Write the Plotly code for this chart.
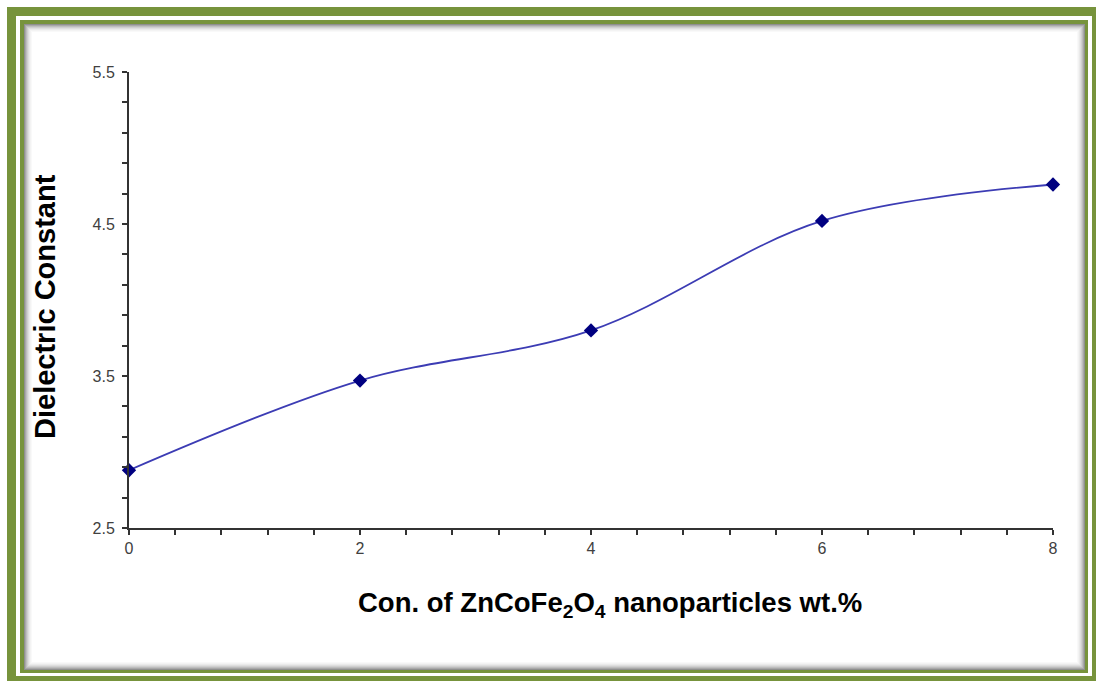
import plotly.graph_objects as go

# Data
conc = [0, 2, 4, 6, 8]
dielectric = [2.88, 3.47, 3.80, 4.52, 4.76]
x_ticks = [0, 2, 4, 6, 8]
y_ticks = [2.5, 3.5, 4.5, 5.5]
y_tick_labels = ["2.5", "3.5", "4.5", "5.5"]

W, H = 1096, 681
ML, MR, MT, MB = 129, 43, 72, 153
PW, PH = W - ML - MR, H - MT - MB


def px(x):
    return (x - ML) / PW


def py(y):
    return 1 - (y - MT) / PH


def rect(x0, y0, x1, y1, color):
    return dict(type="rect", xref="paper", yref="paper", layer="below",
                x0=px(x0), x1=px(x1), y0=py(y1), y1=py(y0),
                fillcolor=color, line=dict(width=0))


GREEN = "#77933C"
shapes = [
    rect(7, 7, 1100, 690, GREEN),
    rect(16, 16, 1092, 676, "white"),
    rect(20, 20, 1088, 673, GREEN),
]
shadow = ["#8f8f8f", "#a8a8a8", "#bdbdbd", "#cfcfcf", "#dedede", "#eaeaea", "#f3f3f3", "#f9f9f9"]
for i, c in enumerate(shadow):
    shapes.append(rect(24 + i, 24 + i, 1085 - i, 670 - i, c))
shapes.append(rect(24 + len(shadow), 24 + len(shadow), 1085 - len(shadow), 670 - len(shadow), "white"))

fig = go.Figure()
fig.add_trace(go.Scatter(
    x=conc, y=dielectric, mode="lines+markers",
    line=dict(color="#3c3cb4", width=1.8, shape="spline", smoothing=1.0),
    marker=dict(symbol="diamond", size=11, color="#000080", line=dict(width=0)),
    cliponaxis=False, showlegend=False,
))

tickfont = dict(family="Liberation Sans, Arial, sans-serif", size=16, color="#404040")
fig.update_xaxes(
    range=[0, 8], tickvals=x_ticks, ticktext=[str(v) for v in x_ticks],
    showgrid=False, zeroline=False, showline=True, linecolor="#333333", linewidth=2,
    ticks="outside", ticklen=5, tickwidth=2, tickcolor="#333333",
    minor=dict(dtick=0.4, tick0=0, ticks="outside", ticklen=5, tickwidth=2, tickcolor="#333333", showgrid=False),
    tickfont=tickfont,
)
fig.update_yaxes(
    range=[2.5, 5.5], tickvals=y_ticks, ticktext=y_tick_labels,
    showgrid=False, zeroline=False, showline=True, linecolor="#333333", linewidth=2,
    ticks="outside", ticklen=5, tickwidth=2, tickcolor="#333333",
    minor=dict(dtick=0.2, tick0=2.5, ticks="outside", ticklen=5, tickwidth=2, tickcolor="#333333", showgrid=False),
    tickfont=tickfont, ticklabelstandoff=4,
)

xtitlefont = dict(family="Liberation Sans, Arial, sans-serif", size=27.5, color="black")
ytitlefont = dict(family="Liberation Sans, Arial, sans-serif", size=29, color="black")
annotations = [
    dict(text="<b>Con. of ZnCoFe<sub>2</sub>O<sub>4</sub> nanoparticles wt.%</b>",
         xref="paper", yref="paper", x=px(610), y=py(604), showarrow=False,
         xanchor="center", yanchor="middle", font=xtitlefont),
    dict(text="<b>Dielectric Constant</b>", textangle=-90,
         xref="paper", yref="paper", x=px(45), y=py(307), showarrow=False,
         xanchor="center", yanchor="middle", font=ytitlefont),
]

fig.update_layout(
    width=W, height=H,
    margin=dict(l=ML, r=MR, t=MT, b=MB),
    paper_bgcolor="white", plot_bgcolor="rgba(0,0,0,0)",
    shapes=shapes, annotations=annotations,
)

fig.write_html("out.html")
